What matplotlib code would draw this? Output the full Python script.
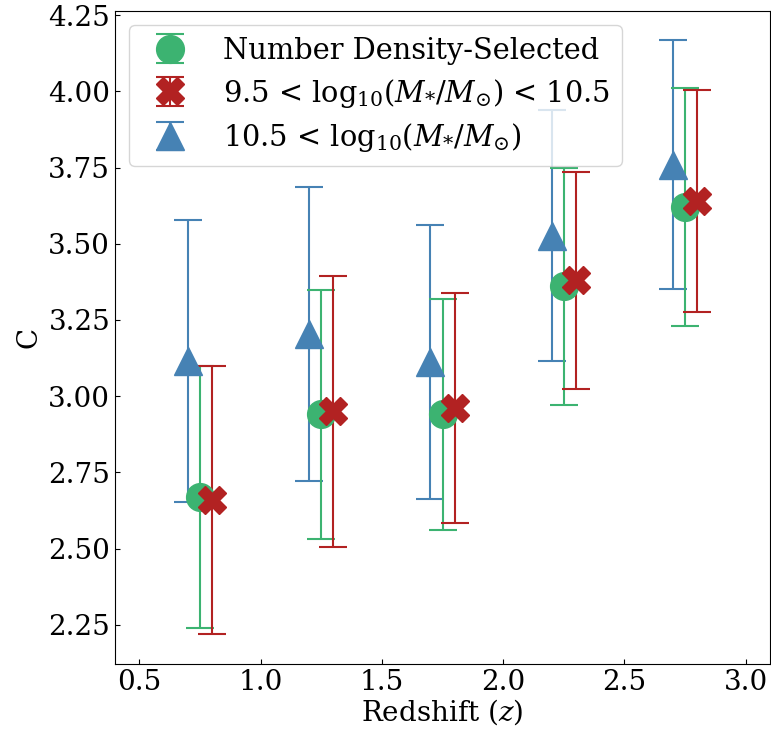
import matplotlib
matplotlib.use("Agg")
import matplotlib.pyplot as plt

plt.rcParams["font.family"] = ["DejaVu Serif"]
plt.rcParams["mathtext.fontset"] = "dejavuserif"

# Concentration vs redshift for three galaxy samples
z_nd = [0.75, 1.25, 1.75, 2.25, 2.75]
c_nd = [2.67, 2.94, 2.94, 3.36, 3.62]
err_nd = [0.43, 0.41, 0.38, 0.39, 0.39]

z_low = [0.80, 1.30, 1.80, 2.30, 2.80]
c_low = [2.66, 2.95, 2.96, 3.38, 3.64]
err_low = [0.44, 0.445, 0.377, 0.357, 0.364]

z_high = [0.70, 1.20, 1.70, 2.20, 2.70]
c_high = [3.115, 3.205, 3.112, 3.526, 3.760]
err_high = [0.462, 0.482, 0.449, 0.412, 0.408]

labels = [
    "Number Density-Selected",
    r"$9.5$ < $\mathrm{log}_{10}(M_{*}/M_{\odot})$ < $10.5$",
    r"$10.5$ < $\mathrm{log}_{10}(M_{*}/M_{\odot})$",
]

fig = plt.figure(figsize=(7.71, 7.33), dpi=100)
ax = fig.add_axes([115 / 771, 1 - 664 / 733, 655 / 771, 653 / 733])

common = dict(linestyle="none", ms=20, capsize=10, elinewidth=1.5, capthick=1.5)
h_high = ax.errorbar(z_high, c_high, yerr=err_high, fmt="^", color="#4682B4", **common)
h_nd = ax.errorbar(z_nd, c_nd, yerr=err_nd, fmt="o", color="#3CB371", **common)
h_low = ax.errorbar(z_low, c_low, yerr=err_low, fmt="X", color="#B22222", **common)

ax.set_xlim(0.4, 3.1)
ax.set_ylim(2.121, 4.264)
ax.set_xticks([0.5, 1.0, 1.5, 2.0, 2.5, 3.0])
ax.set_yticks([2.25, 2.50, 2.75, 3.00, 3.25, 3.50, 3.75, 4.00, 4.25])
ax.tick_params(direction="in", labelsize=20)
ax.set_xlabel(r"Redshift ($z$)", fontsize=20, labelpad=1)
ax.set_ylabel("C", fontsize=20)

ax.legend([h_nd, h_low, h_high], labels, loc="upper left", fontsize=20.8,
          handletextpad=0.85, labelspacing=0.4)

fig.savefig("out.png", dpi=100)
